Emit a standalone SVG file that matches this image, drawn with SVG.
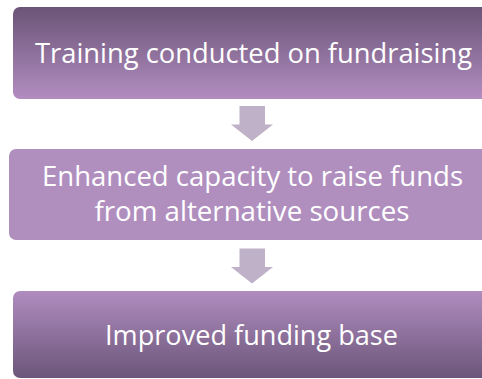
<svg xmlns="http://www.w3.org/2000/svg" width="482" height="379" viewBox="0 0 482 379">
  <defs>
    <linearGradient id="fadeDown" x1="0" y1="0" x2="0" y2="1">
      <stop offset="0" stop-color="#6a5477"/>
      <stop offset="1" stop-color="#b28dc0"/>
    </linearGradient>
    <linearGradient id="fadeUp" x1="0" y1="0" x2="0" y2="1">
      <stop offset="0" stop-color="#b08cbf"/>
      <stop offset="1" stop-color="#6b5679"/>
    </linearGradient>
    <style>
      .label { font-family: "Open Sans", "Noto Sans", sans-serif; font-size: 28px; fill: #ffffff; text-anchor: middle; }
      .arrow { fill: #bfb1c8; }
    </style>
  </defs>

  <rect width="482" height="379" fill="#ffffff"/>

  <g id="connectors">
    <path class="arrow" d="M239.5,106 H265 V124.5 H273 L252,141 L231,124.5 H239.5 Z"/>
    <path class="arrow" d="M239.5,248.5 H265 V267 H273 L252,283.5 L231,267 H239.5 Z"/>
  </g>

  <g id="training">
    <rect x="13" y="7" width="478" height="92" rx="7" fill="url(#fadeDown)"/>
    <text class="label" x="253.5" y="62.5" textLength="437" lengthAdjust="spacingAndGlyphs">Training conducted on fundraising</text>
  </g>

  <g id="capacity">
    <rect x="9" y="149" width="486" height="91" rx="7" fill="#b08fbf"/>
    <text class="label" x="252.5" y="186" textLength="421" lengthAdjust="spacingAndGlyphs">Enhanced capacity to raise funds</text>
    <text class="label" x="252" y="220.5" textLength="315" lengthAdjust="spacingAndGlyphs">from alternative sources</text>
  </g>

  <g id="funding">
    <rect x="13" y="291" width="478" height="87" rx="7" fill="url(#fadeUp)"/>
    <text class="label" x="251.5" y="345" textLength="293" lengthAdjust="spacingAndGlyphs">Improved funding base</text>
  </g>
</svg>
